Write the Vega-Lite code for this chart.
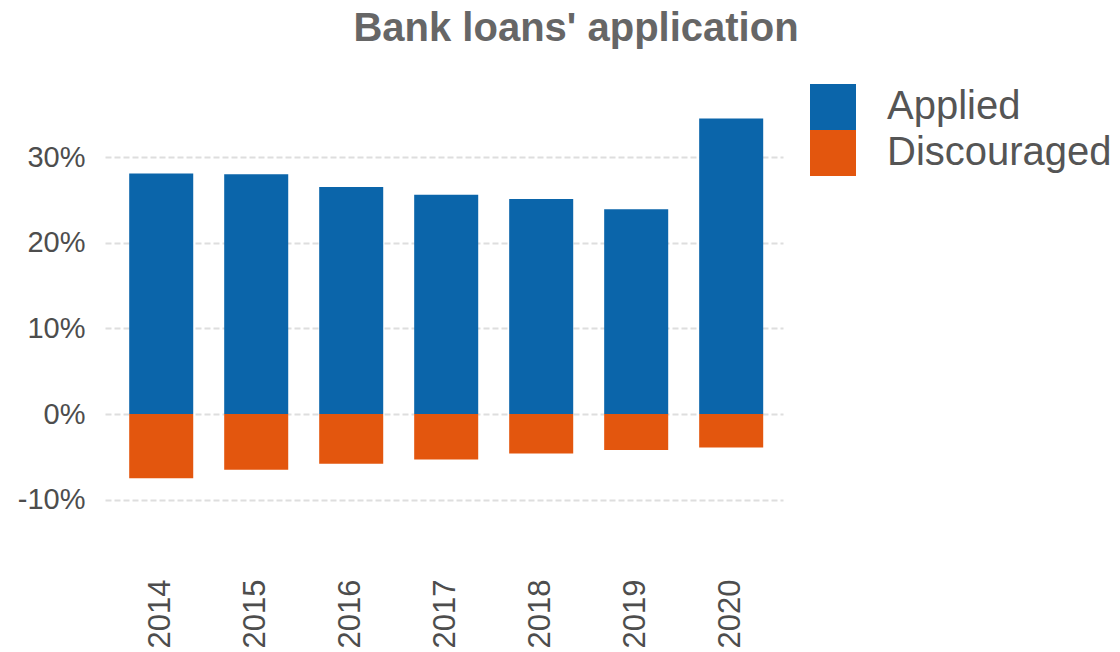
{
  "$schema": "https://vega.github.io/schema/vega-lite/v6.json",
  "width": 678,
  "height": 424,
  "autosize": "none",
  "padding": {"left": 105, "top": 95, "right": 337, "bottom": 133},
  "background": "white",
  "title": {
    "text": "Bank loans' application",
    "font": "Liberation Sans",
    "fontSize": 40,
    "fontWeight": "bold",
    "color": "#666666",
    "anchor": "middle",
    "dx": 132,
    "dy": 49,
    "baseline": "alphabetic",
    "offset": 52
  },
  "data": {
    "values": [
      {"year": "2014", "type": "Applied", "value": 0.281},
      {"year": "2015", "type": "Applied", "value": 0.280},
      {"year": "2016", "type": "Applied", "value": 0.265},
      {"year": "2017", "type": "Applied", "value": 0.256},
      {"year": "2018", "type": "Applied", "value": 0.251},
      {"year": "2019", "type": "Applied", "value": 0.239},
      {"year": "2020", "type": "Applied", "value": 0.345},
      {"year": "2014", "type": "Discouraged", "value": -0.075},
      {"year": "2015", "type": "Discouraged", "value": -0.065},
      {"year": "2016", "type": "Discouraged", "value": -0.058},
      {"year": "2017", "type": "Discouraged", "value": -0.053},
      {"year": "2018", "type": "Discouraged", "value": -0.046},
      {"year": "2019", "type": "Discouraged", "value": -0.042},
      {"year": "2020", "type": "Discouraged", "value": -0.039}
    ]
  },
  "mark": {"type": "bar"},
  "encoding": {
    "x": {
      "field": "year",
      "type": "ordinal",
      "scale": {"paddingInner": 0.326, "paddingOuter": 0.2316, "align": 0.55},
      "axis": {
        "title": null,
        "labelAngle": -90,
        "labelFont": "Liberation Sans",
        "labelFontSize": 31,
        "labelColor": "#4d4d4d",
        "labelPadding": 60,
        "ticks": false,
        "domain": false,
        "grid": false
      }
    },
    "y": {
      "field": "value",
      "type": "quantitative",
      "stack": null,
      "scale": {"domain": [-0.1225, 0.3725], "nice": false, "zero": false},
      "axis": {
        "title": null,
        "values": [-0.1, 0, 0.1, 0.2, 0.3],
        "labelExpr": "replace(format(datum.value, '.0%'), '\u2212', '-')",
        "labelFont": "Liberation Sans",
        "labelFontSize": 29,
        "labelColor": "#4d4d4d",
        "labelPadding": 20,
        "ticks": false,
        "domain": false,
        "grid": true,
        "gridColor": "#dedede",
        "gridWidth": 2,
        "gridDash": [6, 3]
      }
    },
    "color": {
      "field": "type",
      "type": "nominal",
      "scale": {"domain": ["Applied", "Discouraged"], "range": ["#0B65AA", "#E3560E"]},
      "legend": {
        "title": null,
        "orient": "none",
        "legendX": 705,
        "legendY": -11,
        "padding": 0,
        "symbolType": "square",
        "symbolSize": 2116,
        "symbolStrokeWidth": 0,
        "symbolOpacity": 1,
        "labelFont": "Liberation Sans",
        "labelFontSize": 40,
        "labelLimit": 0,
        "labelColor": "#555555",
        "labelOffset": 31,
        "rowPadding": 0
      }
    }
  },
  "config": {"view": {"stroke": null}}
}
